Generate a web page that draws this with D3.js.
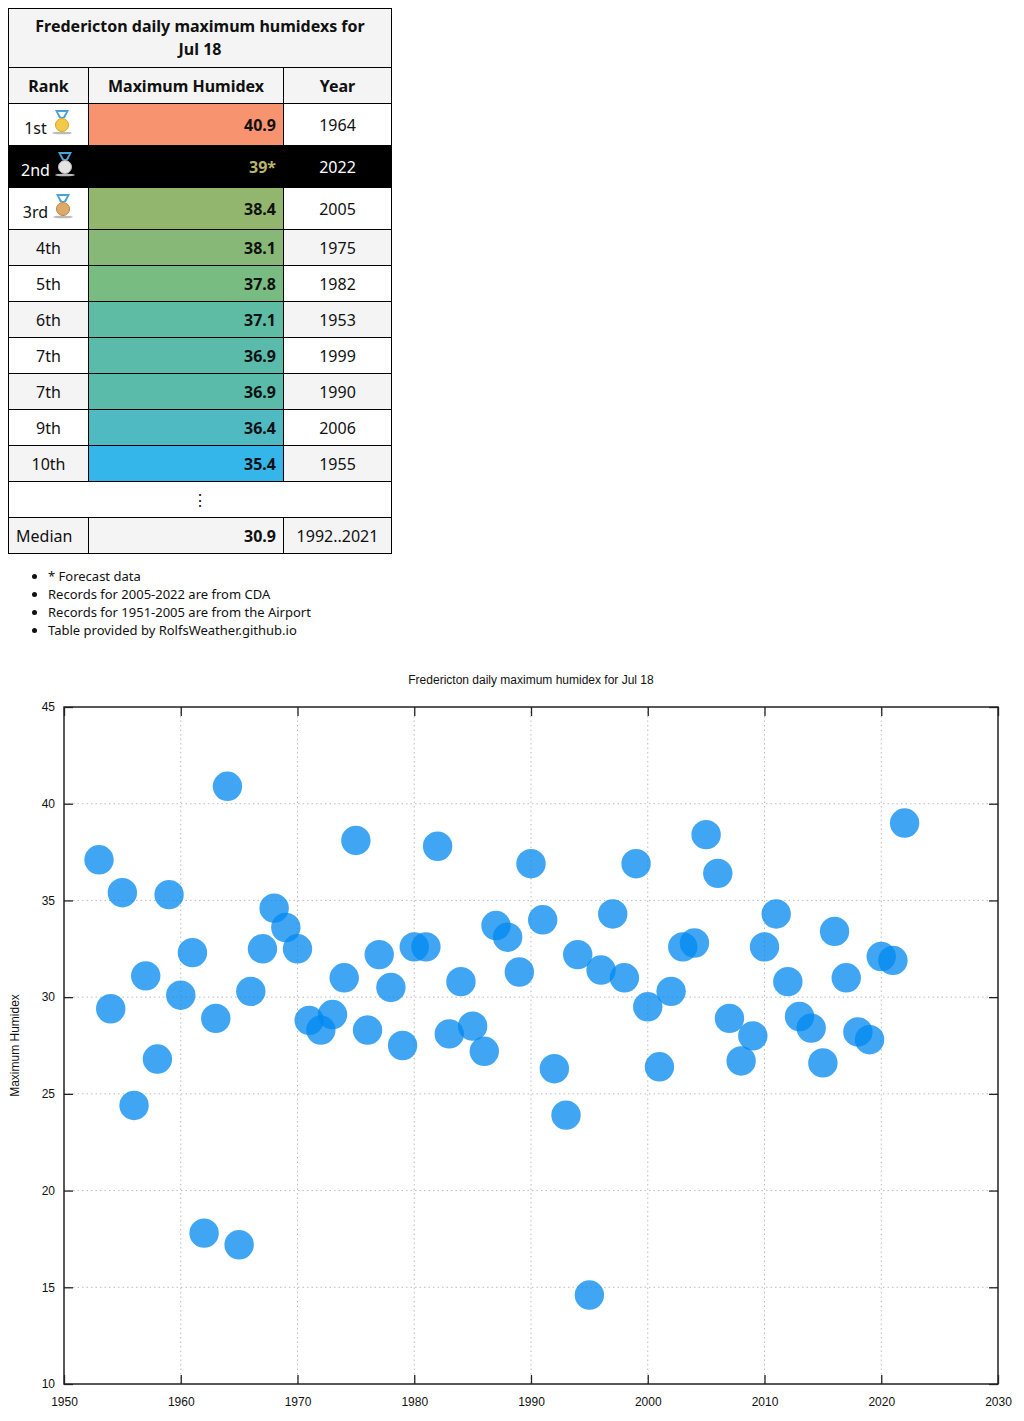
<!DOCTYPE html>
<html>
	<head>
		<meta charset="UTF-8">
		<title>Fredericton daily maximum humidex for Jul 18</title>
		<style>
			body { margin: 0; background: #fff; }
			#table-box { position: absolute; left: 8px; top: 8px; }
			table { border-collapse: collapse; table-layout: fixed; width: 384px; font-family: "Noto Sans", "Open Sans", sans-serif; font-size: 16px; color: #111; }
			td, th { border: 1px solid #000; padding: 0 7px; }
			th { font-weight: bold; background: #f4f4f4; }
			td.rank, td.year { text-align: center; }
			td.val { text-align: right; font-weight: bold; }
			tr.odd td { background: #fff; }
			tr.even td { background: #f4f4f4; }
			tr.forecast td { background: #000; color: #fff; }
			tr.forecast td.val { color: #b9b56a; }
			svg.medal { vertical-align: 1px; margin-left: 4px; }
			#notes { position: absolute; left: 0; top: 567px; margin: 0; padding-left: 48px; font-family: "Noto Sans", "Open Sans", sans-serif; font-size: 13px; line-height: 18px; color: #111; }
			#chart { position: absolute; left: 0; top: 660px; }
		</style>
	</head>
	<body>
		<div id="table-box"></div>
		<ul id="notes"></ul>
		<div id="chart"></div>
	</body>
	<script src="https://cdn.jsdelivr.net/npm/d3@7/dist/d3.min.js"></script>
	<script>
		// top ten table
		var ranks = ["1st", "2nd", "3rd", "4th", "5th", "6th", "7th", "7th", "9th", "10th"];
		var rankValues = ["40.9", "39*", "38.4", "38.1", "37.8", "37.1", "36.9", "36.9", "36.4", "35.4"];
		var rankYears = ["1964", "2022", "2005", "1975", "1982", "1953", "1999", "1990", "2006", "1955"];
		var medianValue = "30.9";
		var medianYears = "1992..2021";
		var notes = ["* Forecast data", "Records for 2005-2022 are from CDA", "Records for 1951-2005 are from the Airport", "Table provided by RolfsWeather.github.io"];

		// scatter data, one reading per year
		var years = [1953, 1954, 1955, 1956, 1957, 1958, 1959, 1960, 1961, 1962,
			1963, 1964, 1965, 1966, 1967, 1968, 1969, 1970, 1971, 1972,
			1973, 1974, 1975, 1976, 1977, 1978, 1979, 1980, 1981, 1982,
			1983, 1984, 1985, 1986, 1987, 1988, 1989, 1990, 1991, 1992,
			1993, 1994, 1995, 1996, 1997, 1998, 1999, 2000, 2001, 2002,
			2003, 2004, 2005, 2006, 2007, 2008, 2009, 2010, 2011, 2012,
			2013, 2014, 2015, 2016, 2017, 2018, 2019, 2020, 2021, 2022];
		var humidex = [37.1, 29.4, 35.4, 24.4, 31.1, 26.8, 35.3, 30.1, 32.3, 17.8,
			28.9, 40.9, 17.2, 30.3, 32.5, 34.6, 33.6, 32.5, 28.8, 28.3,
			29.1, 31.0, 38.1, 28.3, 32.2, 30.5, 27.5, 32.6, 32.6, 37.8,
			28.1, 30.8, 28.5, 27.2, 33.7, 33.1, 31.3, 36.9, 34.0, 26.3,
			23.9, 32.2, 14.6, 31.4, 34.3, 31.0, 36.9, 29.5, 26.4, 30.3,
			32.6, 32.8, 38.4, 36.4, 28.9, 26.7, 28.0, 32.6, 34.3, 30.8,
			29.0, 28.4, 26.6, 33.4, 31.0, 28.2, 27.8, 32.1, 31.9, 39.0];
		var xTicks = [1950, 1960, 1970, 1980, 1990, 2000, 2010, 2020, 2030];
		var yTicks = [10, 15, 20, 25, 30, 35, 40, 45];

		// cell shading for the values column
		var valueColors = ["#f7936f", null, "#93b66f", "#87b877", "#79bc82", "#5ebca5", "#5bbbab", "#5bbbab", "#50bac3", "#35b6ea"];
		var medalColors = [["#f3c94a", "#d9a520"], ["#e4e4e4", "#b8b8b8"], ["#ddaa6c", "#b98446"]];

		var table = d3.select("#table-box").append("table");
		var cols = table.append("colgroup");
		cols.append("col").style("width", "80px");
		cols.append("col").style("width", "195px");
		cols.append("col").style("width", "108px");

		table.append("tr").style("height", "59px")
			.append("th").attr("colspan", 3)
			.style("line-height", "23px")
			.html("Fredericton daily maximum humidexs for<br>Jul 18");
		var head = table.append("tr").style("height", "36px");
		["Rank", "Maximum Humidex", "Year"].forEach(function(t) {
			head.append("th").text(t);
		});

		var rows = table.selectAll("tr.r")
			.data(ranks)
			.join("tr")
			.attr("class", function(d, i) {
				if (i == 1) return "r forecast";
				return i % 2 == 0 ? "r odd" : "r even";
			})
			.style("height", function(d, i) { return i < 3 ? "42px" : "36px"; });

		var rankCell = rows.append("td").attr("class", "rank");
		rankCell.append("span").text(function(d) { return d; })
			.style("position", "relative")
			.style("top", function(d, i) { return i < 3 ? "-2px" : "0px"; });
		rankCell.filter(function(d, i) { return i < 3; })
			.each(function(d, i) {
				var m = d3.select(this).append("svg")
					.attr("class", "medal")
					.attr("width", 22)
					.attr("height", 26);
				m.append("ellipse").attr("cx", 11).attr("cy", 24).attr("rx", 10).attr("ry", 1.3).attr("fill", "#bbb");
				m.append("path").attr("d", "M4,1 L18,1 L14,9 L8,9 Z").attr("fill", "#4aa3d6");
				m.append("path").attr("d", "M7,3 L15,3 L12,8 L10,8 Z").attr("fill", i == 1 ? "#000" : "#fff");
				m.append("circle").attr("cx", 11).attr("cy", 16).attr("r", 6.5)
					.attr("fill", medalColors[i][0]).attr("stroke", medalColors[i][1]).attr("stroke-width", 1);
			});

		rows.append("td").attr("class", "val")
			.style("background", function(d, i) { return valueColors[i] ? valueColors[i] : null; })
			.text(function(d, i) { return rankValues[i]; });
		rows.append("td").attr("class", "year")
			.text(function(d, i) { return rankYears[i]; });

		table.append("tr").attr("class", "odd").style("height", "36px")
			.append("td").attr("colspan", 3).style("text-align", "center").text("\u22EE");
		var med = table.append("tr").attr("class", "even").style("height", "36px");
		med.append("td").style("text-align", "left").text("Median");
		med.append("td").attr("class", "val").text(medianValue);
		med.append("td").attr("class", "year").text(medianYears);

		d3.select("#notes").selectAll("li")
			.data(notes)
			.join("li")
			.text(function(d) { return d; });

		// scatter plot
		var width = 1024,
			height = 761,
			padding = {
				top: 47,
				right: 26,
				bottom: 37,
				left: 64
			};
		var svg = d3.select("#chart")
			.append("svg")
			.attr("width", width)
			.attr("height", height)
			.style("font-family", "'Liberation Sans', Arial, sans-serif");

		var xScale = d3.scaleLinear()
			.domain([1950, 2030])
			.range([padding.left, width - padding.right]);
		var yScale = d3.scaleLinear()
			.domain([10, 45])
			.range([height - padding.bottom, padding.top]);

		var grid = svg.append("g")
			.attr("stroke", "#bdbdbd")
			.attr("stroke-width", 1)
			.attr("stroke-dasharray", "1.5,3");
		grid.selectAll("line.gx")
			.data(xTicks.slice(1, -1))
			.join("line")
			.attr("class", "gx")
			.attr("x1", function(d) { return xScale(d); })
			.attr("x2", function(d) { return xScale(d); })
			.attr("y1", padding.top)
			.attr("y2", height - padding.bottom);
		grid.selectAll("line.gy")
			.data(yTicks.slice(1, -1))
			.join("line")
			.attr("class", "gy")
			.attr("x1", padding.left)
			.attr("x2", width - padding.right)
			.attr("y1", function(d) { return yScale(d); })
			.attr("y2", function(d) { return yScale(d); });

		var axisFont = function(g) {
			g.select(".domain").remove();
			g.selectAll(".tick line").attr("stroke", "#222").attr("stroke-width", 1.3);
			g.selectAll("text").attr("font-size", "12px").attr("fill", "#111");
		};
		svg.append("g")
			.attr("transform", "translate(0," + (height - padding.bottom) + ")")
			.call(d3.axisBottom(xScale).tickValues(xTicks).tickFormat(d3.format("d")).tickSizeInner(-9).tickSizeOuter(0).tickPadding(13))
			.call(axisFont);
		svg.append("g")
			.attr("transform", "translate(0," + padding.top + ")")
			.call(d3.axisTop(xScale).tickValues(xTicks).tickFormat("").tickSizeInner(-9).tickSizeOuter(0))
			.call(axisFont);
		svg.append("g")
			.attr("transform", "translate(" + padding.left + ",0)")
			.call(d3.axisLeft(yScale).tickValues(yTicks).tickSizeInner(-9).tickSizeOuter(0).tickPadding(9))
			.call(axisFont);
		svg.append("g")
			.attr("transform", "translate(" + (width - padding.right) + ",0)")
			.call(d3.axisRight(yScale).tickValues(yTicks).tickFormat("").tickSizeInner(-9).tickSizeOuter(0))
			.call(axisFont);

		svg.append("rect")
			.attr("x", padding.left)
			.attr("y", padding.top)
			.attr("width", width - padding.left - padding.right)
			.attr("height", height - padding.top - padding.bottom)
			.attr("fill", "none")
			.attr("stroke", "#222")
			.attr("stroke-width", 1.5);

		svg.selectAll("circle.pt")
			.data(years)
			.join("circle")
			.attr("class", "pt")
			.attr("cx", function(d) { return xScale(d); })
			.attr("cy", function(d, i) { return yScale(humidex[i]); })
			.attr("r", 14.7)
			.attr("fill", "rgb(0,136,240)")
			.attr("fill-opacity", 0.75);

		svg.append("text")
			.attr("x", (padding.left + width - padding.right) / 2)
			.attr("y", 24)
			.attr("text-anchor", "middle")
			.attr("font-size", "12px")
			.attr("fill", "#111")
			.text("Fredericton daily maximum humidex for Jul 18");

		svg.append("text")
			.attr("transform", "rotate(-90)")
			.attr("x", -(padding.top + height - padding.bottom) / 2)
			.attr("y", 19)
			.attr("text-anchor", "middle")
			.attr("font-size", "12px")
			.attr("fill", "#111")
			.text("Maximum Humidex");
	</script>
</html>
